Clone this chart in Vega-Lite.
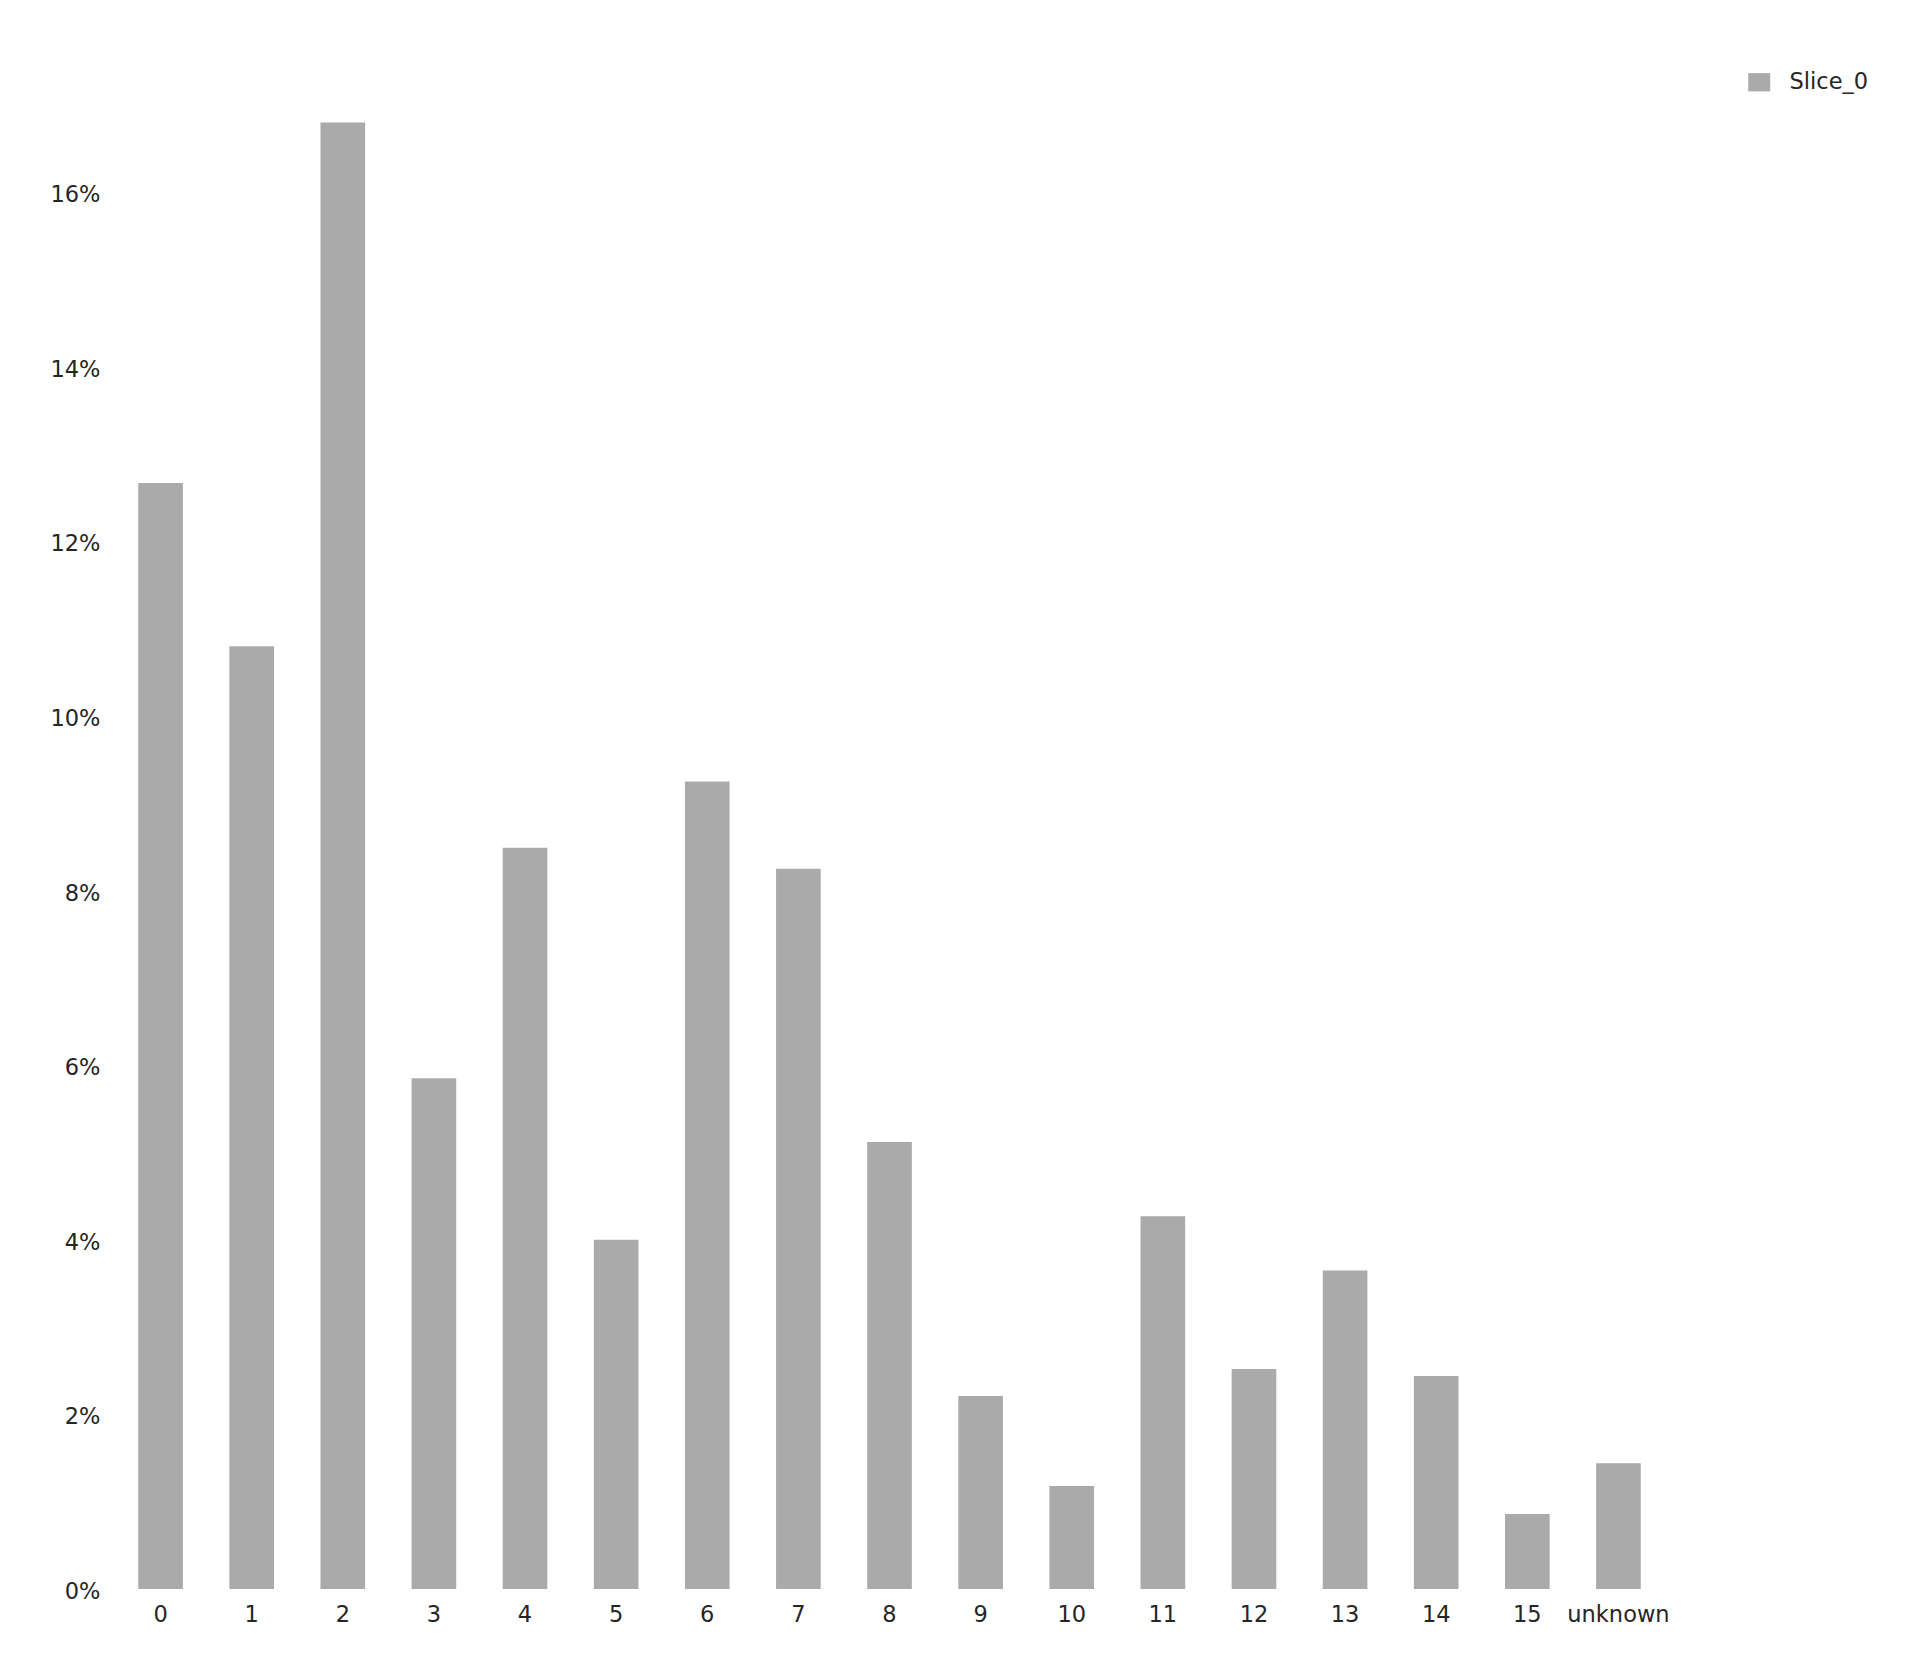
{
  "$schema": "https://vega.github.io/schema/vega-lite/v6.json",
  "autosize": {"type": "none"},
  "padding": {"left": 115, "top": 105, "right": 262, "bottom": 87},
  "width": 1549,
  "height": 1484,
  "background": "white",
  "config": {
    "view": {"stroke": null},
    "font": "DejaVu Sans",
    "axis": {
      "labelFont": "DejaVu Sans",
      "labelFontSize": 22.5,
      "labelColor": "#262626",
      "domain": false,
      "ticks": false,
      "tickSize": 0,
      "grid": false,
      "title": null
    },
    "legend": {
      "labelFont": "DejaVu Sans",
      "labelFontSize": 22.5,
      "labelColor": "#262626",
      "padding": 0
    }
  },
  "data": {
    "values": [
      {"bin": "0", "share": 0.1267, "series": "Slice_0"},
      {"bin": "1", "share": 0.1080, "series": "Slice_0"},
      {"bin": "2", "share": 0.1680, "series": "Slice_0"},
      {"bin": "3", "share": 0.0585, "series": "Slice_0"},
      {"bin": "4", "share": 0.0849, "series": "Slice_0"},
      {"bin": "5", "share": 0.0400, "series": "Slice_0"},
      {"bin": "6", "share": 0.0925, "series": "Slice_0"},
      {"bin": "7", "share": 0.0825, "series": "Slice_0"},
      {"bin": "8", "share": 0.0512, "series": "Slice_0"},
      {"bin": "9", "share": 0.0221, "series": "Slice_0"},
      {"bin": "10", "share": 0.0118, "series": "Slice_0"},
      {"bin": "11", "share": 0.0427, "series": "Slice_0"},
      {"bin": "12", "share": 0.0252, "series": "Slice_0"},
      {"bin": "13", "share": 0.0365, "series": "Slice_0"},
      {"bin": "14", "share": 0.0244, "series": "Slice_0"},
      {"bin": "15", "share": 0.0086, "series": "Slice_0"},
      {"bin": "unknown", "share": 0.0144, "series": "Slice_0"}
    ]
  },
  "mark": {"type": "bar"},
  "encoding": {
    "x": {
      "field": "bin",
      "type": "ordinal",
      "sort": null,
      "scale": {"paddingInner": 0.51, "paddingOuter": 0.255},
      "axis": {"labelAngle": 0, "labelPadding": 14}
    },
    "y": {
      "field": "share",
      "type": "quantitative",
      "scale": {"domain": [0, 0.17], "nice": false},
      "axis": {"format": ".0%", "values": [0, 0.02, 0.04, 0.06, 0.08, 0.1, 0.12, 0.14, 0.16], "labelPadding": 15, "labelOffset": 2.5}
    },
    "color": {
      "field": "series",
      "type": "nominal",
      "scale": {"range": ["#aaaaaa"]},
      "legend": {
        "title": null,
        "orient": "none",
        "legendX": 1633,
        "legendY": -34,
        "symbolType": "M-1,-0.83L1,-0.83L1,0.83L-1,0.83Z",
        "symbolSize": 484,
        "symbolStrokeWidth": 0,
        "labelOffset": 19
      }
    }
  }
}
